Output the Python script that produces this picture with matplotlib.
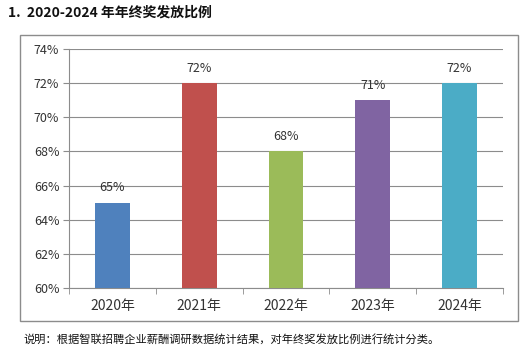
import matplotlib.pyplot as plt
from matplotlib.patches import Rectangle

plt.rcParams['font.family'] = ['Noto Sans CJK SC', 'DejaVu Sans']

# 数据
years = ['2020年', '2021年', '2022年', '2023年', '2024年']
ratios = [65, 72, 68, 71, 72]
colors = ['#4F81BD', '#C0504D', '#9BBB59', '#8064A2', '#4BACC6']
yticks = [60, 62, 64, 66, 68, 70, 72, 74]

fig = plt.figure(figsize=(5.30, 3.51), dpi=100)
W, H = 530, 351

# 外框
fig.patches.append(Rectangle((20 / W, 1 - 321 / H), 498 / W, 286 / H,
                             transform=fig.transFigure, fill=False,
                             edgecolor='#8c8c8c', linewidth=1.0))

ax = fig.add_axes([69 / W, 1 - 288 / H, 434 / W, 239 / H])
x = range(len(years))
ax.bar(x, ratios, width=0.4, color=colors, zorder=3)
for i, v in zip(x, ratios):
    ax.text(i, v + 0.5, f'{v}%', ha='center', va='bottom', fontsize=9, color='#333333')

ax.set_ylim(60, 74)
ax.set_xlim(-0.5, len(years) - 0.5)
ax.set_yticks(yticks)
ax.set_yticklabels([f'{t}%' for t in yticks], fontsize=9, color='#333333')
ax.set_xticks(list(x))
ax.set_xticklabels(years, fontsize=10, color='#333333')
ax.tick_params(axis='x', length=0, pad=8)
ax.tick_params(axis='y', length=4, color='#8c8c8c', pad=3)
ax.set_xticks([i + 0.5 for i in range(-1, len(years))], minor=True)
ax.tick_params(axis='x', which='minor', length=4, color='#8c8c8c')
ax.grid(axis='y', color='#8c8c8c', linewidth=0.8, zorder=0)
for s in ['top', 'right']:
    ax.spines[s].set_visible(False)
for s in ['left', 'bottom']:
    ax.spines[s].set_color('#8c8c8c')

fig.text(8 / W, 1 - 13 / H, '1.  2020-2024 年年终奖发放比例', fontsize=10,
         fontweight='bold', va='center', ha='left', color='#111111')
fig.text(23 / W, 1 - 339 / H, '说明：根据智联招聘企业薪酬调研数据统计结果，对年终奖发放比例进行统计分类。',
         fontsize=8.1, va='center', ha='left', color='#111111')

fig.savefig('out.png', dpi=100)
